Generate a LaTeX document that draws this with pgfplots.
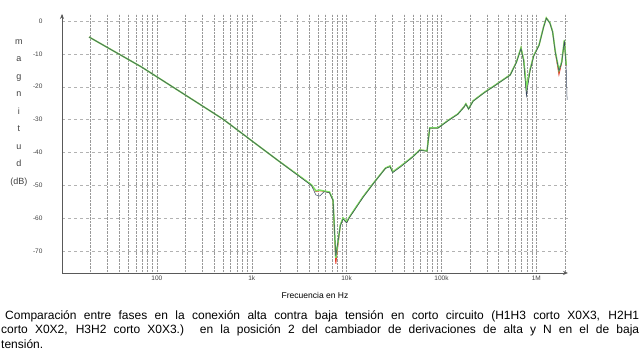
\documentclass[border=0pt]{standalone}
\usepackage{pgfplots}
\pgfplotsset{compat=1.18}
\usepackage{pgfplotstable}
\usepackage{fontspec}
\setmainfont{Liberation Sans}
\usetikzlibrary{arrows.meta}
\definecolor{cgreen}{RGB}{125,228,95}
\definecolor{cdark}{RGB}{55,70,95}
\definecolor{cred}{RGB}{230,60,40}

\pgfplotstableread{
f dB
19.3 -4.9
68.9 -14.0
495 -29.8
1849 -42.2
4254 -49.8
4747 -51.6
5200 -51.4
5785 -51.7
6595 -52.0
7197 -54.4
7690 -72.0
8580 -62.0
9160 -59.9
10000 -61.1
10690 -59.6
14840 -53.5
19300 -49.2
25700 -44.7
28660 -44.1
30600 -45.9
37250 -44.1
49550 -41.3
59040 -39.2
70400 -39.5
75170 -32.5
91600 -32.5
119200 -30.1
148300 -28.3
172900 -26.1
180700 -25.2
193000 -26.7
215400 -24.3
286400 -21.6
356500 -19.8
444200 -17.9
529600 -16.4
616600 -12.5
688600 -8.2
735600 -11.9
785400 -20.4
857400 -14.9
935300 -10.6
1068000 -7.3
1192000 -1.8
1273000 0.9
1390000 -0.6
1484000 -3.3
1585000 -9.4
1730000 -14.9
1849000 -12.5
1974000 -5.8
2061000 -13.4
}\tgreen

\pgfplotstableread{
f dB
19.3 -4.9
68.9 -14.0
495 -29.8
1849 -42.2
4254 -50.0
4747 -52.9
5200 -53.2
5785 -51.9
6595 -52.2
7197 -54.6
7690 -71.5
8580 -62.3
9160 -60.2
10000 -61.4
10690 -59.8
14840 -53.7
19300 -49.3
25700 -44.8
28660 -44.3
30600 -46.1
37250 -44.3
49550 -41.4
59040 -39.3
70400 -39.6
75170 -32.6
91600 -32.6
119200 -30.2
148300 -28.4
172900 -26.2
180700 -25.3
193000 -26.8
215400 -24.4
286400 -21.7
356500 -19.9
444200 -18.0
529600 -16.5
616600 -12.6
688600 -8.4
735600 -12.3
785400 -22.8
857400 -15.2
935300 -10.8
1068000 -7.4
1192000 -1.9
1273000 0.8
1390000 -0.7
1484000 -3.4
1585000 -9.6
1730000 -15.2
1849000 -12.8
1974000 -6.0
2061000 -14.0
2108000 -24.0
}\tdark

\pgfplotstableread{
f dB
19.3 -4.9
68.9 -14.0
495 -29.8
1849 -42.2
4254 -49.8
4747 -51.8
5200 -51.6
5785 -51.8
6595 -52.1
7197 -54.5
7690 -73.8
8580 -62.1
9160 -60.0
10000 -61.2
10690 -59.7
14840 -53.5
19300 -49.2
25700 -44.7
28660 -44.1
30600 -45.9
37250 -44.1
49550 -41.3
59040 -39.2
70400 -39.5
75170 -32.5
91600 -32.5
119200 -30.1
148300 -28.3
172900 -26.1
180700 -25.2
193000 -26.7
215400 -24.3
286400 -21.6
356500 -19.8
444200 -17.9
529600 -16.4
616600 -12.5
688600 -8.2
735600 -11.9
785400 -20.6
857400 -14.9
935300 -10.6
1068000 -7.3
1192000 -1.8
1273000 0.9
1390000 -0.6
1484000 -3.3
1585000 -9.6
1730000 -16.3
1849000 -12.7
1974000 -6.0
2061000 -13.6
}\tred

\begin{document}
\begin{tikzpicture}
\useasboundingbox (0pt,0pt) rectangle (641pt,353pt);
\begin{axis}[
  at={(62pt,80pt)}, anchor=south west,
  width=506pt, height=259pt, scale only axis,
  xmode=log, xmin=10, xmax=2.155e6,
  ymin=-76.6, ymax=2.1,
  axis x line=bottom, axis y line=left,
  axis line style={-{Stealth[length=5pt,width=4pt]}, black!65, line width=0.9pt},
  xtick={10,100,1000,10000,100000,1000000},
  xticklabels={,100,1k,10k,100k,1M},
  minor xtick={20,30,40,50,60,70,80,90,200,300,400,500,600,700,800,900,2000,3000,4000,5000,6000,7000,8000,9000,20000,30000,40000,50000,60000,70000,80000,90000,200000,300000,400000,500000,600000,700000,800000,900000,2000000},
  ytick={0,-10,-20,-30,-40,-50,-60,-70},
  xmajorgrids, xminorgrids, ymajorgrids,
  x grid style={black!40, densely dotted, line width=0.4pt},
  y grid style={black!30, dashed, line width=0.4pt},
  major tick length=0pt, minor tick length=0pt,
  /pgf/number format/assume math mode=true,
  tick label style={font=\fontsize{6.5}{7}\selectfont, text=black!75},
  yticklabel style={anchor=east, xshift=-16pt},
  xticklabel style={yshift=1pt},
  xlabel={Frecuencia en Hz},
  xlabel style={font=\fontsize{8.5}{10}\selectfont, at={(axis description cs:0.5,-0.085)}, anchor=center},
  ylabel={m\\a\\g\\n\\i\\t\\u\\d\\(dB)},
  ylabel style={font=\fontsize{9}{17.5}\selectfont, align=center, rotate=-90, at={(axis description cs:-0.085,0.618)}, anchor=center, text=black!75},
]
\addplot[cred, line width=0.9pt] table[x=f,y=dB] {\tred};
\addplot[cgreen, line width=1.5pt] table[x=f,y=dB] {\tgreen};
\addplot[cdark, line width=0.5pt] table[x=f,y=dB] {\tdark};
\end{axis}
\node[anchor=north west, inner sep=0pt, text width=638pt, align=justify, font=\fontsize{12}{14.5}\selectfont] at (1pt,43pt)
 {\hspace*{4pt}Comparación entre fases en la conexión alta contra baja tensión en corto circuito (H1H3 corto X0X3, H2H1\linebreak corto X0X2, H3H2 corto X0X3.) en la posición 2 del cambiador de derivaciones de alta y N en el de baja\linebreak tensión.};
\end{tikzpicture}
\end{document}
